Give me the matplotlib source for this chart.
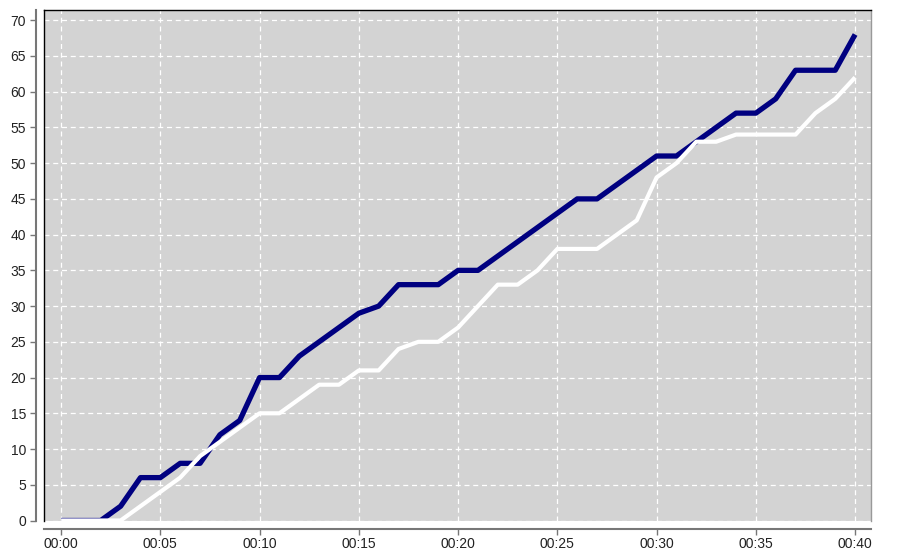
import matplotlib
matplotlib.use('Agg')
import matplotlib.pyplot as plt

# minutes since start
minutes = list(range(0, 41))

# navy series
blue_vals = [0, 0, 0, 2, 6, 6, 8, 8, 12, 14,
             20, 20, 23, 25, 27, 29, 30, 33, 33, 33,
             35, 35, 37, 39, 41, 43, 45, 45, 47, 49,
             51, 51, 53, 55, 57, 57, 59, 63, 63, 63,
             68]

# white series
white_vals = [0, 0, 0, 0, 2, 4, 6, 9, 11, 13,
              15, 15, 17, 19, 19, 21, 21, 24, 25, 25,
              27, 30, 33, 33, 35, 38, 38, 38, 40, 42,
              48, 50, 53, 53, 54, 54, 54, 54, 57, 59,
              62]

xticks = list(range(0, 41, 5))
xtick_labels = [f'00:{m:02d}' for m in xticks]
yticks = list(range(0, 71, 5))

plt.rcParams['font.family'] = ['Liberation Sans', 'DejaVu Sans']

fig = plt.figure(figsize=(9.02, 5.53), dpi=100)
ax = fig.add_axes([44 / 902, 1 - 520.5 / 553, 827 / 902, 511 / 553])
ax.set_facecolor('#d3d3d3')

ax.plot(minutes, blue_vals, color='#000080', lw=3.8, solid_capstyle='butt', zorder=3)
ax.plot(minutes, white_vals, color='white', lw=3.0, solid_capstyle='butt', zorder=4)

ax.set_xlim(-0.86, 40.8)
ax.set_ylim(0, 71.5)
ax.set_xticks(xticks)
ax.set_xticklabels(xtick_labels)
ax.set_yticks(yticks)

ax.grid(True, color='white', linestyle=(0, (4, 3)), lw=0.9, zorder=1)
ax.set_axisbelow(True)

# detached axis lines
for side in ['left', 'bottom']:
    ax.spines[side].set_position(('outward', 6))
    ax.spines[side].set_color('#777777')
    ax.spines[side].set_linewidth(1.5)
ax.spines['top'].set_color('black')
ax.spines['top'].set_linewidth(1.0)
ax.spines['right'].set_color('#999999')
ax.spines['right'].set_linewidth(1.0)
# black left border of the plot area
ax.plot([0, 0], [0, 1], transform=ax.transAxes, color='black', lw=1.0, clip_on=False, zorder=5)

ax.tick_params(axis='both', direction='out', length=4, width=1, color='#777777',
               labelsize=10, labelcolor='#222222')
ax.tick_params(axis='x', pad=2)
ax.tick_params(axis='y', pad=3)

fig.savefig('out.png', dpi=100)
